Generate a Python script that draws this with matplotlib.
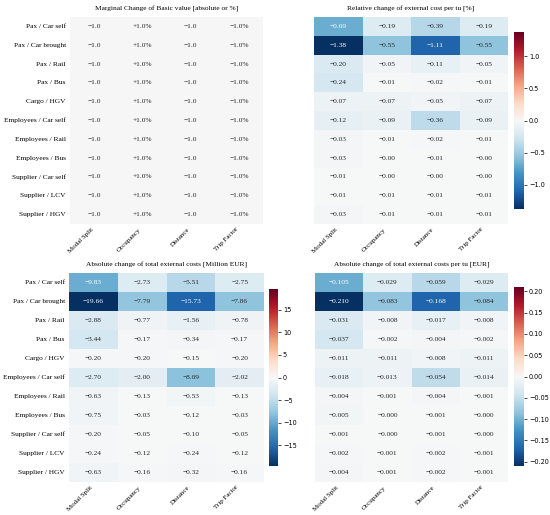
import numpy as np
import matplotlib
matplotlib.use("Agg")
import matplotlib.pyplot as plt
import seaborn as sns

rows = ["Pax / Car self", "Pax / Car brought", "Pax / Rail", "Pax / Bus", "Cargo / HGV",
        "Employees / Car self", "Employees / Rail", "Employees / Bus",
        "Supplier / Car self", "Supplier / LCV", "Supplier / HGV"]
cols = ["Modal Split", "Occupancy", "Distance", "Trip Factor"]

marginal_labels = ["\u22121.0", "+1.0%", "\u22121.0", "\u22121.0%"]

rel_pct = [
    [-0.69, -0.19, -0.39, -0.19],
    [-1.38, -0.55, -1.11, -0.55],
    [-0.20, -0.05, -0.11, -0.05],
    [-0.24, -0.01, -0.02, -0.01],
    [-0.07, -0.07, -0.05, -0.07],
    [-0.12, -0.09, -0.36, -0.09],
    [-0.03, -0.01, -0.02, -0.01],
    [-0.03, -0.003, -0.01, -0.003],
    [-0.01, -0.003, -0.004, -0.003],
    [-0.01, -0.01, -0.01, -0.01],
    [-0.03, -0.01, -0.01, -0.01],
]
abs_meur = [
    [-9.83, -2.73, -5.51, -2.75],
    [-19.66, -7.79, -15.73, -7.86],
    [-2.88, -0.77, -1.56, -0.78],
    [-3.44, -0.17, -0.34, -0.17],
    [-0.20, -0.20, -0.15, -0.20],
    [-2.70, -2.00, -8.09, -2.02],
    [-0.63, -0.13, -0.53, -0.13],
    [-0.75, -0.03, -0.12, -0.03],
    [-0.20, -0.05, -0.10, -0.05],
    [-0.24, -0.12, -0.24, -0.12],
    [-0.63, -0.16, -0.32, -0.16],
]
abs_eur_tu = [
    [-0.105, -0.029, -0.059, -0.029],
    [-0.210, -0.083, -0.168, -0.084],
    [-0.031, -0.008, -0.017, -0.008],
    [-0.037, -0.002, -0.004, -0.002],
    [-0.011, -0.011, -0.008, -0.011],
    [-0.018, -0.013, -0.054, -0.014],
    [-0.004, -0.001, -0.004, -0.001],
    [-0.005, -0.0003, -0.001, -0.0003],
    [-0.001, -0.0003, -0.001, -0.0003],
    [-0.002, -0.001, -0.002, -0.001],
    [-0.004, -0.001, -0.002, -0.001],
]

SERIF = "Liberation Serif"
FS = 5.3
W, H = 550, 515


def box(x0, y0, x1, y1):
    # pixel box (top-left origin) -> figure fraction rect
    return [x0 / W, 1 - y1 / H, (x1 - x0) / W, (y1 - y0) / H]


def annots(vals, fmt):
    return np.array([[format(v, fmt).replace("-", "\u2212") for v in r] for r in vals])


def panel(fig, rect, cbrect, vals, labels, title, ticks, show_rows):
    ax = fig.add_axes(box(*rect))
    vals = np.array(vals, float)
    vmax = np.abs(vals).max() if cbrect else 1.0
    if cbrect:
        cax = fig.add_axes(box(*cbrect))
        kw = dict(cbar=True, cbar_ax=cax)
    else:
        kw = dict(cbar=False)
    sns.heatmap(vals, ax=ax, cmap="RdBu_r", vmin=-vmax, vmax=vmax, annot=labels, fmt="",
                annot_kws={"fontsize": FS, "fontfamily": SERIF},
                xticklabels=cols, yticklabels=rows if show_rows else False, **kw)
    ax.set_xticklabels(cols, rotation=45, ha="right", fontsize=5.0, fontfamily=SERIF)
    if show_rows:
        ax.set_yticklabels(rows, rotation=0, fontsize=FS, fontfamily=SERIF)
    ax.tick_params(axis="x", length=0, pad=2)
    ax.tick_params(axis="y", length=0, pad=3)
    ax.set_title(title, fontsize=FS, fontfamily=SERIF, pad=5)
    if cbrect:
        cax.set_yticks(ticks)
        cax.tick_params(labelsize=4.7, length=2, width=0.5, pad=1.5)
    return ax


fig = plt.figure(figsize=(5.5, 5.15), dpi=100)

panel(fig, (70, 17, 263, 224), None, np.zeros((11, 4)),
      np.array([marginal_labels] * len(rows)),
      "Marginal Change of Basic value [absolute or %]", None, True)
panel(fig, (314, 17, 508, 224), (514, 32, 524, 209), rel_pct,
      annots(rel_pct, ".2f"), "Relative change of external cost per tu [%]",
      [-1.0, -0.5, 0.0, 0.5, 1.0], False)
panel(fig, (69, 273, 264, 482), (269, 289, 278, 466), abs_meur,
      annots(abs_meur, ".2f"), "Absolute change of total external costs [Million EUR]",
      [-15, -10, -5, 0, 5, 10, 15], True)
panel(fig, (315, 273, 508, 482), (514, 287, 524, 466), abs_eur_tu,
      annots(abs_eur_tu, ".3f"), "Absolute change of total external costs per tu [EUR]",
      [-0.20, -0.15, -0.10, -0.05, 0.0, 0.05, 0.10, 0.15, 0.20], False)

fig.savefig("out.png", dpi=100)
